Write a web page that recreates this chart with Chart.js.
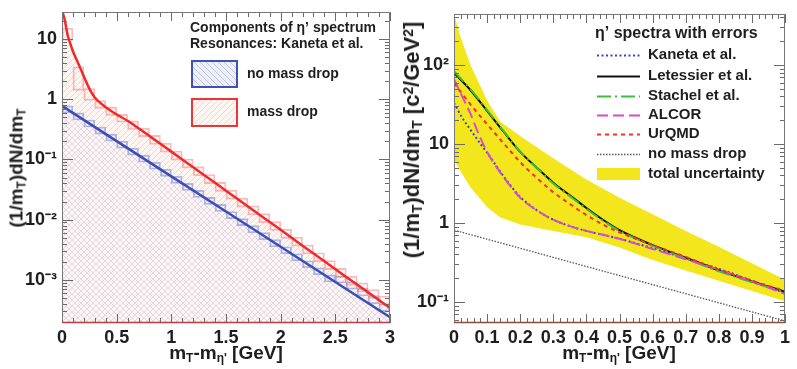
<!DOCTYPE html>
<html><head><meta charset="utf-8">
<script src="https://cdn.jsdelivr.net/npm/chart.js@4.4.1/dist/chart.umd.min.js"></script>
<style>
html,body{margin:0;padding:0;background:#fff;}
#wrap{position:relative;width:797px;height:369px;overflow:hidden;font-family:"Liberation Sans",Arial,sans-serif;}
.cv{position:absolute;top:0;}
.title{position:absolute;font-weight:bold;font-size:19px;color:#1e1e1e;white-space:nowrap;line-height:1;}
.title sub{font-size:0.63em;position:relative;top:0.22em;vertical-align:baseline;}
.title sup{font-size:0.63em;position:relative;top:-0.42em;vertical-align:baseline;}
</style></head>
<body>
<div id="wrap">
 <div class="cv" style="left:0;width:400px;height:369px"><canvas id="c1" width="400" height="369"></canvas></div>
 <div class="cv" style="left:400px;width:397px;height:369px"><canvas id="c2" width="397" height="369"></canvas></div>
 <div class="title" style="left:16px;top:168px;transform:translate(-50%,-50%) rotate(-90deg)">(1/m<sub>T</sub>)dN/dm<sub>T</sub></div>
 <div class="title" style="left:226px;top:352px;transform:translate(-50%,-50%)">m<sub>T</sub>-m<sub>η'</sub> [GeV]</div>
 <div class="title" style="left:619px;top:352px;transform:translate(-50%,-50%)">m<sub>T</sub>-m<sub>η'</sub> [GeV]</div>
 <div class="title" style="left:412px;top:140px;font-size:22px;transform:translate(-50%,-50%) rotate(-90deg)">(1/m<sub>T</sub>)dN/dm<sub>T</sub> [c<sup>2</sup>/GeV<sup>2</sup>]</div>
</div>
<script>
// ---------------- LEFT PANEL DATA ----------------
const massDropX = [0,0.025,0.05,0.075,0.1,0.15,0.2,0.25,0.3,0.35,0.4,0.5,0.6,0.7,0.8,0.9,1.0,1.2,1.4,1.6,1.8,2.0,2.2,2.4,2.6,2.8,3.0];
const massDrop  = [30,20.9,12.0,8.5,6.3,3.9,2.4,1.5,1.07,0.87,0.74,0.56,0.44,0.33,0.245,0.182,0.135,0.074,0.041,0.0224,0.0123,0.0068,0.0037,0.00204,0.00112,0.00062,0.00034];
const noDropX   = [0,0.5,1.0,1.5,2.0,2.5,3.0];
const noDrop    = [0.776,0.202,0.0525,0.01365,0.00355,0.000923,0.00024];
const binCenters = [0.05,0.15,0.25,0.35,0.45,0.55,0.65,0.75,0.85,0.95,1.05,1.15,1.25,1.35,1.45,1.55,1.65,1.75,1.85,1.95,2.05,2.15,2.25,2.35,2.45,2.55,2.65,2.75,2.85,2.95];
const massDropBinHi = [15.1,3.47,1.51,0.955,0.741,0.562,0.437,0.331,0.251,0.186,0.138,0.102,0.0759,0.0562,0.0417,0.0309,0.0229,0.0170,0.0126,0.00933,0.00692,0.00513,0.00380,0.00282,0.00209,0.00155,0.00115,0.00089,0.00069,0.00054];
const massDropBinLo = [9.5,1.41,0.955,0.708,0.537,0.417,0.316,0.240,0.178,0.132,0.0977,0.0724,0.0537,0.0398,0.0295,0.0219,0.0162,0.0120,0.00891,0.00661,0.00490,0.00363,0.00269,0.00200,0.00148,0.00110,0.00081,0.00063,0.00049,0.00038];
const noDropBinHi = [0.776,0.593,0.453,0.346,0.264,0.202,0.154,0.118,0.0900,0.0687,0.0525,0.0401,0.0306,0.0234,0.0179,0.01365,0.0104,0.00796,0.00608,0.00465,0.00355,0.00271,0.00207,0.00158,0.00121,0.00116,0.00092,0.00072,0.00055,0.00040];
const noDropBinLo = [0.593,0.453,0.346,0.264,0.202,0.154,0.118,0.0900,0.0687,0.0525,0.0401,0.0306,0.0234,0.0179,0.01365,0.0104,0.00796,0.00608,0.00465,0.00355,0.00271,0.00207,0.00158,0.00121,0.000923,0.00089,0.00070,0.00054,0.00040,0.00030];
const leftYTicks  = [0.001,0.01,0.1,1,10];
const leftYLabels = ['10\u207B\u00B3','10\u207B\u00B2','10\u207B\u00B9','1','10'];
const leftXLabels = ['0','0.5','1','1.5','2','2.5','3'];

// ---------------- RIGHT PANEL DATA ----------------
const rightX    = [0,0.05,0.1,0.15,0.2,0.25,0.3,0.35,0.4,0.45,0.5,0.55,0.6,0.7,0.8,0.9,1.0];
const letessier = [79.4,47.9,26.3,14.3,7.94,5.01,3.24,2.24,1.55,1.10,0.813,0.646,0.525,0.363,0.251,0.182,0.135];
const stachel   = [83.2,49.0,26.9,14.5,7.94,5.01,3.16,2.19,1.51,1.07,0.794,0.631,0.513,0.355,0.245,0.178,0.132];
const urqmd     = [58.9,31.6,17.8,10.2,5.89,3.72,2.45,1.74,1.26,0.955,0.759,0.631,0.525,0.372,0.257,0.186,0.138];
const fineX     = [0,0.025,0.05,0.075,0.1,0.15,0.2,0.25,0.3,0.35,0.4,0.45,0.5,0.6,0.7,0.8,0.9,1.0];
const alcor     = [66.1,39.8,24.0,13.2,7.94,3.80,2.09,1.45,1.10,0.912,0.794,0.708,0.631,0.468,0.347,0.257,0.182,0.126];
const kaneta    = [33.1,21.4,15.1,10.7,7.76,3.89,2.14,1.45,1.10,0.912,0.794,0.708,0.631,0.479,0.355,0.263,0.186,0.129];
const grayX     = [0,0.25,0.5,0.75,1.0];
const noMassDropR = [0.813,0.419,0.216,0.1115,0.0575];
const bandX  = [0,0.02,0.05,0.1,0.14,0.2,0.3,0.4,0.5,0.6,0.7,0.8,0.9,1.0];
const bandHi = [440,224,100,35.5,19.1,12.6,6.6,3.55,2.09,1.29,0.794,0.501,0.309,0.191];
const bandLo = [6.31,4.47,2.82,1.58,1.17,0.955,0.794,0.661,0.490,0.339,0.251,0.186,0.138,0.102];
const rightYTicks  = [0.1,1,10,100];
const rightYLabels = ['10\u207B\u00B9','1','10','10\u00B2'];
const rightXLabels = ['0','0.1','0.2','0.3','0.4','0.5','0.6','0.7','0.8','0.9','1'];

const FONT = '"Liberation Sans", Arial, sans-serif';
const pts = (xs, ys) => xs.map((x, i) => ({x, y: ys[i]}));

function hatch(bg, color, dir) {
  const c = document.createElement('canvas'); c.width = 6; c.height = 6;
  const g = c.getContext('2d');
  if (bg) { g.fillStyle = bg; g.fillRect(0, 0, 6, 6); }
  g.strokeStyle = color; g.lineWidth = 1; g.beginPath();
  if (dir > 0) { g.moveTo(-1, 7); g.lineTo(7, -1); g.moveTo(-1, 1); g.lineTo(1, -1); g.moveTo(5, 7); g.lineTo(7, 5); }
  else { g.moveTo(-1, -1); g.lineTo(7, 7); g.moveTo(5, -1); g.lineTo(7, 1); g.moveTo(-1, 5); g.lineTo(1, 7); }
  g.stroke();
  return g.createPattern(c, 'repeat');
}
const redHatch  = hatch('rgba(253,245,242,1)', 'rgba(247,208,198,0.9)', 1);
const blueHatch = hatch(null, 'rgba(175,170,215,0.35)', -1);
const blueHatchLeg = hatch('rgba(238,240,248,1)', 'rgba(185,190,222,0.9)', -1);

function frameAndTicks(o) {
  return {
    id: 'frameTicks',
    afterDatasetsDraw(chart) {
      const {ctx, chartArea: a, scales: {x, y}} = chart;
      ctx.save();
      ctx.strokeStyle = '#6a6a6a'; ctx.lineWidth = 1;
      ctx.beginPath();
      const n = Math.round((o.xMax - o.xMin) / o.xMinor);
      const per = Math.round(o.xMajor / o.xMinor);
      for (let k = 0; k <= n; k++) {
        const len = (k % per === 0) ? 9 : 5;
        const px = Math.round(x.getPixelForValue(o.xMin + k * o.xMinor)) + 0.5;
        ctx.moveTo(px, a.bottom); ctx.lineTo(px, a.bottom - len);
        ctx.moveTo(px, a.top); ctx.lineTo(px, a.top + len);
      }
      for (let d = -5; d <= 3; d++) {
        for (let m = 1; m <= 9; m++) {
          const v = m * Math.pow(10, d);
          if (v < y.min || v > y.max) continue;
          const len = m === 1 ? 11 : 5;
          const py = Math.round(y.getPixelForValue(v)) + 0.5;
          ctx.moveTo(a.left, py); ctx.lineTo(a.left + len, py);
          ctx.moveTo(a.right, py); ctx.lineTo(a.right - len, py);
        }
      }
      ctx.stroke();
      ctx.strokeStyle = '#777';
      ctx.beginPath();
      ctx.moveTo(a.left + 0.5, a.bottom); ctx.lineTo(a.left + 0.5, a.top + 0.5);
      ctx.lineTo(a.right - 0.5, a.top + 0.5); ctx.lineTo(a.right - 0.5, a.bottom);
      ctx.stroke();
      ctx.strokeStyle = o.bottomColor; ctx.lineWidth = 1.5;
      ctx.beginPath(); ctx.moveTo(a.left, a.bottom - 0.5); ctx.lineTo(a.right, a.bottom - 0.5); ctx.stroke();
      ctx.restore();
    }
  };
}

function scalesFor(o) {
  return {
    x: {
      type: 'linear', min: o.xMin, max: o.xMax, offset: false,
      grid: {display: false, drawTicks: false}, border: {display: false},
      ticks: {stepSize: o.xMajorLabel, autoSkip: false, maxRotation: 0, padding: 4,
              color: '#1e1e1e', font: {family: FONT, weight: 'bold', size: 18},
              callback: (v) => { const i = Math.round((v - o.xMin) / o.xMajorLabel); return o.xLabels[i] ?? ''; }},
      afterFit(s) { s.height = 46; s.paddingLeft = 0; s.paddingRight = 0; }
    },
    y: {
      type: 'logarithmic', min: o.yMin, max: o.yMax,
      grid: {display: false, drawTicks: false}, border: {display: false},
      afterBuildTicks(s) { s.ticks = o.yTicks.map(v => ({value: v, major: true})); },
      ticks: {autoSkip: false, padding: 5, color: '#1e1e1e',
              font: {family: FONT, weight: 'bold', size: 18},
              callback: (v) => { const i = o.yTicks.indexOf(v); return i >= 0 ? o.yLabels[i] : ''; }},
      afterFit(s) { s.width = o.yWidth; s.paddingTop = 0; s.paddingBottom = 0; }
    }
  };
}

// ---------------- LEFT CHART ----------------
const leftLegend = {
  id: 'leftLegend',
  afterDraw(chart) {
    const ctx = chart.ctx;
    ctx.save();
    ctx.fillStyle = '#1e1e1e'; ctx.textBaseline = 'middle'; ctx.textAlign = 'left';
    ctx.font = 'bold 14px ' + FONT;
    ctx.fillText('Components of \u03B7\u2019 spectrum', 190, 28);
    ctx.fillText('Resonances: Kaneta et al.', 190, 44);
    ctx.fillStyle = blueHatchLeg; ctx.fillRect(192, 61, 45, 26);
    ctx.strokeStyle = '#3d52b3'; ctx.lineWidth = 2; ctx.strokeRect(192, 61, 45, 26);
    ctx.fillStyle = '#fff'; ctx.fillRect(192, 99, 45, 27);
    ctx.fillStyle = redHatch; ctx.fillRect(192, 99, 45, 27);
    ctx.strokeStyle = '#ee3434'; ctx.strokeRect(192, 99, 45, 27);
    ctx.fillStyle = '#1e1e1e'; ctx.font = 'bold 14px ' + FONT;
    ctx.fillText('no mass drop', 247, 74);
    ctx.fillText('mass drop', 247, 112);
    ctx.restore();
  }
};

const leftOpts = {xMin: 0, xMax: 3, xMinor: 0.1, xMajor: 0.5, xMajorLabel: 0.5, xLabels: leftXLabels,
  yMin: 1.92e-4, yMax: 28.2, yTicks: leftYTicks, yLabels: leftYLabels, yWidth: 62, bottomColor: '#b84040'};

new Chart(document.getElementById('c1'), {
  type: 'line',
  data: {
    datasets: [
      {label: 'mass drop', data: pts(massDropX, massDrop), borderColor: '#f02a2a', borderWidth: 2.5,
       pointRadius: 0, cubicInterpolationMode: 'monotone', fill: false, order: 1},
      {label: 'no mass drop', data: pts(noDropX, noDrop), borderColor: '#3a4fb5', borderWidth: 2.5,
       pointRadius: 0, tension: 0, fill: false, order: 2},
      {type: 'bar', label: 'mass drop hist', data: binCenters.map((x, i) => ({x, y: [massDropBinLo[i], massDropBinHi[i]]})),
       backgroundColor: 'rgba(0,0,0,0)', borderColor: 'rgba(248,130,130,0.55)', borderWidth: 1.2, borderSkipped: false,
       barPercentage: 1, categoryPercentage: 1, grouped: false, order: 3},
      {type: 'bar', label: 'no mass drop hist', data: binCenters.map((x, i) => ({x, y: [noDropBinLo[i], noDropBinHi[i]]})),
       backgroundColor: 'rgba(0,0,0,0)', borderColor: 'rgba(120,130,210,0.55)', borderWidth: 1.2, borderSkipped: false,
       barPercentage: 1, categoryPercentage: 1, grouped: false, order: 4},
      {label: 'no mass drop fill', data: pts(noDropX, noDrop), borderWidth: 0, borderColor: 'rgba(0,0,0,0)',
       backgroundColor: blueHatch, pointRadius: 0, tension: 0, fill: 'start', order: 5},
      {label: 'mass drop fill', data: pts(massDropX, massDrop), borderWidth: 0, borderColor: 'rgba(0,0,0,0)',
       backgroundColor: redHatch, pointRadius: 0, cubicInterpolationMode: 'monotone', fill: 'start', order: 6}
    ]
  },
  options: {
    responsive: false, animation: false, devicePixelRatio: 1,
    layout: {padding: {left: 0, top: 12, right: 10, bottom: 0}},
    plugins: {legend: {display: false}, tooltip: {enabled: false}},
    scales: scalesFor(leftOpts)
  },
  plugins: [frameAndTicks(leftOpts), leftLegend]
});

// ---------------- RIGHT CHART ----------------
const rightEntries = [
  {t: 'Kaneta et al.', c: '#3447c0', w: 2, d: [2, 2.5], y: 55},
  {t: 'Letessier et al.', c: '#111111', w: 2, d: [], y: 76},
  {t: 'Stachel et al.', c: '#3cbf3c', w: 2, d: [14, 4, 2, 4], y: 96},
  {t: 'ALCOR', c: '#d04fd0', w: 2, d: [11, 5], y: 115},
  {t: 'UrQMD', c: '#ff2a2a', w: 2, d: [4, 4], y: 134},
  {t: 'no mass drop', c: '#555555', w: 1.5, d: [1.5, 1.5], y: 154}
];
const rightLegend = {
  id: 'rightLegend',
  afterDraw(chart) {
    const ctx = chart.ctx;
    ctx.save();
    ctx.fillStyle = '#1e1e1e'; ctx.textBaseline = 'middle'; ctx.textAlign = 'left';
    ctx.font = 'bold 16px ' + FONT;
    ctx.fillText('\u03B7\u2019 spectra with errors', 195, 34);
    ctx.font = 'bold 15px ' + FONT;
    rightEntries.forEach(e => {
      ctx.strokeStyle = e.c; ctx.lineWidth = e.w; ctx.setLineDash(e.d);
      ctx.beginPath(); ctx.moveTo(197, e.y + 0.5); ctx.lineTo(240, e.y + 0.5); ctx.stroke();
      ctx.setLineDash([]);
      ctx.fillText(e.t, 248, e.y);
    });
    ctx.fillStyle = '#f4e61c'; ctx.fillRect(197, 168, 43, 12);
    ctx.fillStyle = '#1e1e1e';
    ctx.fillText('total uncertainty', 248, 174);
    ctx.restore();
  }
};

const rightOpts = {xMin: 0, xMax: 1, xMinor: 0.02, xMajor: 0.1, xMajorLabel: 0.1, xLabels: rightXLabels,
  yMin: 0.0542, yMax: 442, yTicks: rightYTicks, yLabels: rightYLabels, yWidth: 54, bottomColor: '#8a4a40'};

const lineDs = (label, xs, ys, color, dash, width, order) => ({
  label, data: pts(xs, ys), borderColor: color, borderDash: dash, borderWidth: width,
  pointRadius: 0, cubicInterpolationMode: 'monotone', fill: false, order
});

new Chart(document.getElementById('c2'), {
  type: 'line',
  data: {
    datasets: [
      lineDs('UrQMD', rightX, urqmd, '#ff2a2a', [4, 4], 2, 1),
      lineDs('ALCOR', fineX, alcor, '#d04fd0', [11, 5], 2, 2),
      lineDs('Stachel et al.', rightX, stachel, '#3cbf3c', [14, 4, 2, 4], 2, 3),
      lineDs('Letessier et al.', rightX, letessier, '#111111', [], 2, 4),
      lineDs('Kaneta et al.', fineX, kaneta, '#3447c0', [2, 2.5], 2, 5),
      {label: 'no mass drop', data: pts(grayX, noMassDropR), borderColor: '#555', borderDash: [1.5, 1.5],
       borderWidth: 1.3, pointRadius: 0, tension: 0, fill: false, order: 6},
      {label: 'total uncertainty', data: pts(bandX, bandHi), borderWidth: 0, borderColor: 'rgba(0,0,0,0)',
       backgroundColor: '#f4e61c', pointRadius: 0, tension: 0, fill: '+1', order: 7},
      {label: 'band low', data: pts(bandX, bandLo), borderWidth: 0, borderColor: 'rgba(0,0,0,0)',
       pointRadius: 0, tension: 0, fill: false, order: 8}
    ]
  },
  options: {
    responsive: false, animation: false, devicePixelRatio: 1,
    layout: {padding: {left: 0, top: 14, right: 12, bottom: 0}},
    plugins: {legend: {display: false}, tooltip: {enabled: false}, filler: {propagate: false}},
    scales: scalesFor(rightOpts)
  },
  plugins: [frameAndTicks(rightOpts), rightLegend]
});
</script>
</body></html>
